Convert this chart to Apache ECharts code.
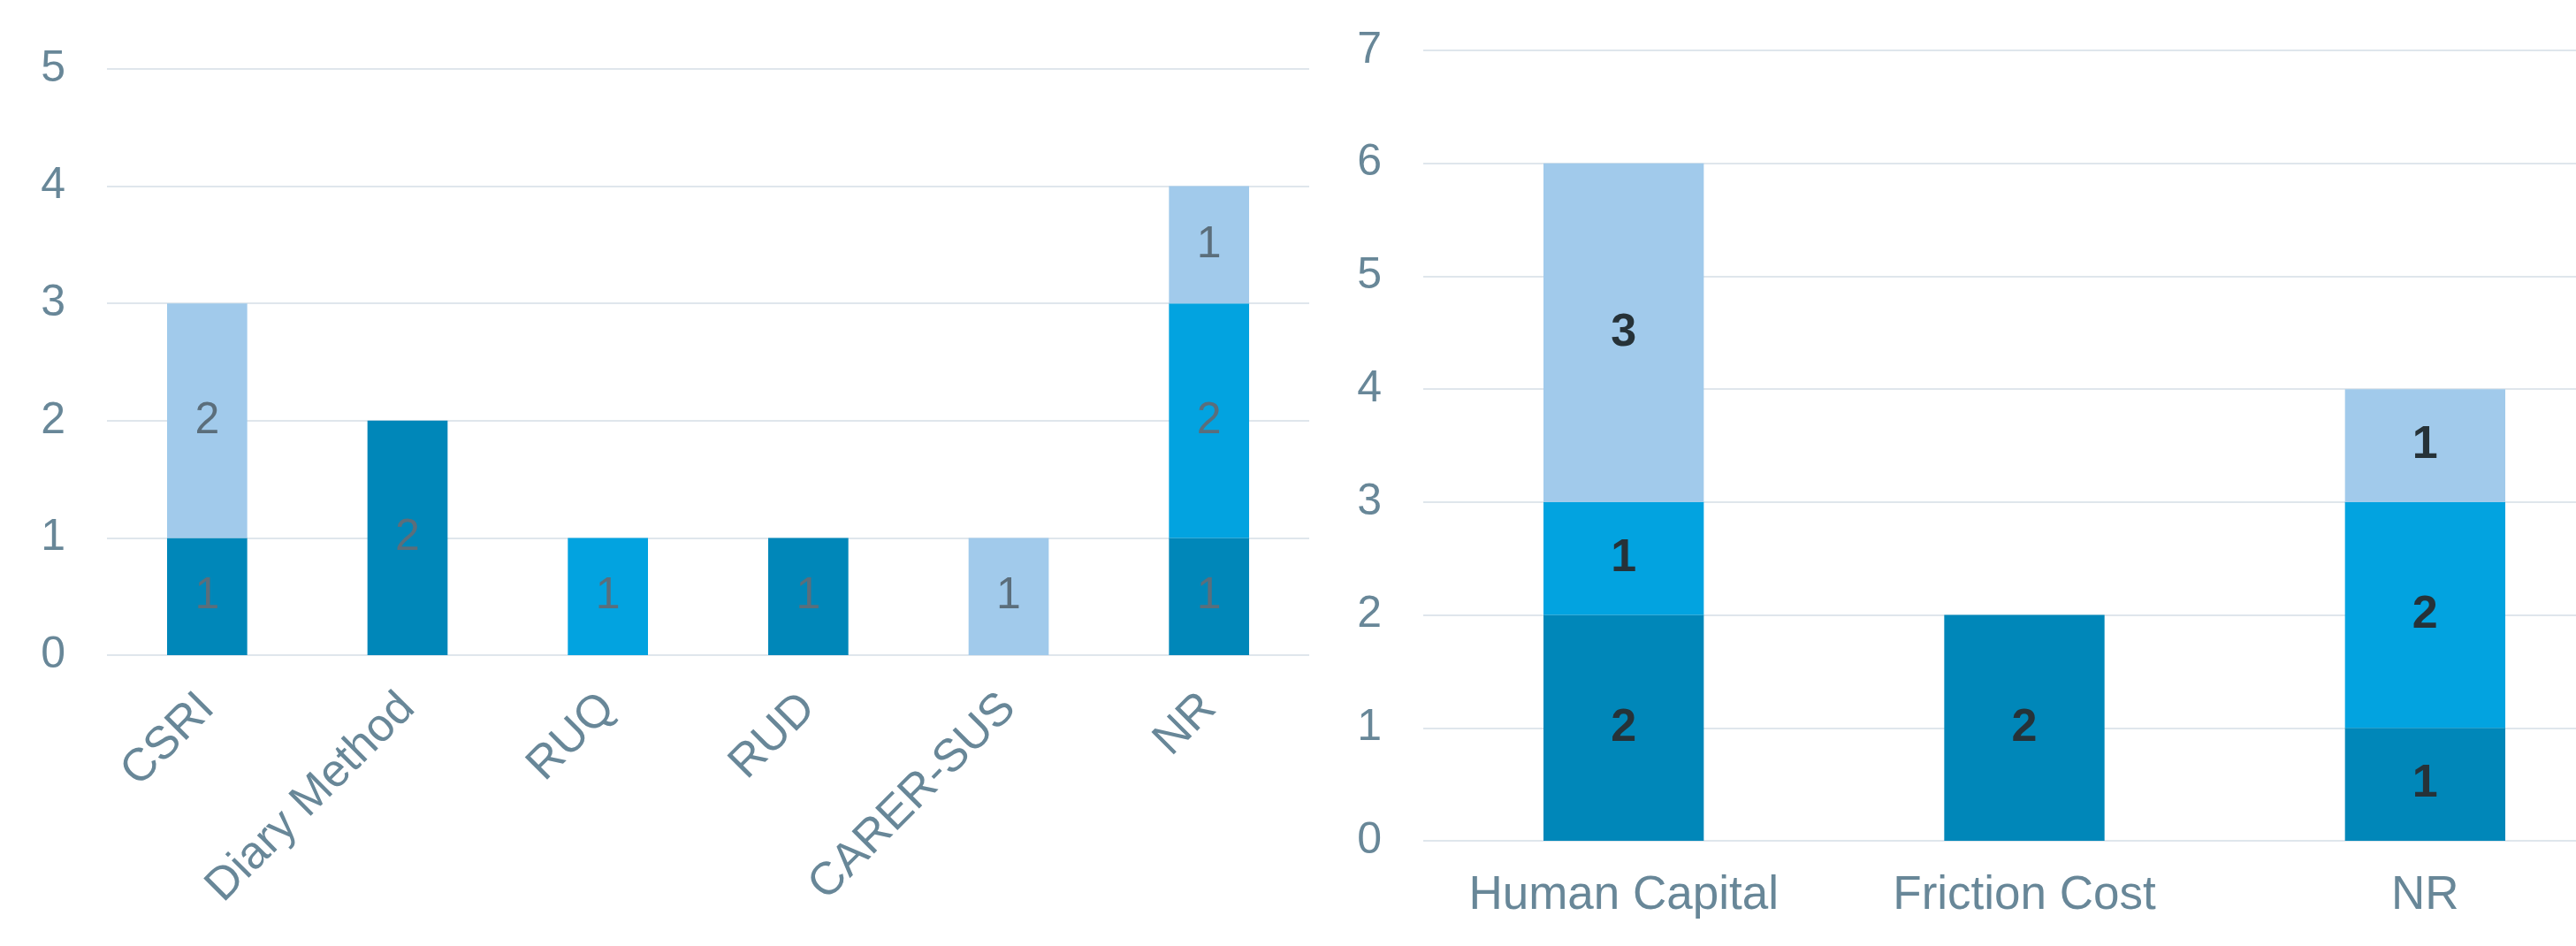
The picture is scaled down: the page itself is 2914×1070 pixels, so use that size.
<!DOCTYPE html>
<html>
<head>
<meta charset="utf-8">
<script src="https://cdn.jsdelivr.net/npm/echarts@6/dist/echarts.min.js"></script>
<style>
    html, body { margin: 0; padding: 0; background: #fff; }
    #chart { width: 2914px; height: 1070px; }
</style>
</head>
<body>
<div id="chart"></div>
<script>
    // left panel: instruments
    const toolCats = ['CSRI', 'Diary Method', 'RUQ', 'RUD', 'CARER-SUS', 'NR'];
    const toolDark = [1, 2, 0, 1, 0, 1];
    const toolMid = [0, 0, 1, 0, 0, 2];
    const toolLight = [2, 0, 0, 0, 1, 1];

    // right panel: methods
    const methodCats = ['Human Capital', 'Friction Cost', 'NR'];
    const methodDark = [2, 2, 1];
    const methodMid = [1, 0, 2];
    const methodLight = [3, 0, 1];

    const colors = ['#0087B9', '#02A3E0', '#A1CAEB'];
    const axisColor = '#688798';
    const gridColor = '#DFE6EC';
    const font = 'Liberation Sans';

    const myChart = echarts.init(document.getElementById('chart'));

    function makeSeries(name, data, color, xi, labelStyle) {
        return {
            name: name,
            type: 'bar',
            stack: 'g' + xi,
            xAxisIndex: xi,
            yAxisIndex: xi,
            barWidth: '40%',
            data: data.map(v => (v === 0 ? null : v)),
            itemStyle: { color: color },
            label: Object.assign({
                show: true,
                position: 'inside',
                fontFamily: font
            }, labelStyle)
        };
    }

    const leftLabel = { color: '#5B6E7B', fontSize: 50, fontWeight: 'normal' };
    const rightLabel = { color: '#263238', fontSize: 52, fontWeight: 'bold' };

    const yAxisBase = {
        type: 'value',
        min: 0,
        interval: 1,
        axisLine: { show: false },
        axisTick: { show: false },
        splitLine: { lineStyle: { color: gridColor, width: 2 } },
        axisLabel: { color: axisColor, fontSize: 50, fontFamily: font, margin: 47 }
    };

    const option = {
        animation: false,
        grid: [
            { left: 121, top: 78, width: 1360, bottom: 329, outerBoundsMode: 'none', containLabel: false },
            { left: 1610, top: 57, width: 1360, bottom: 119, outerBoundsMode: 'none', containLabel: false }
        ],
        xAxis: [
            {
                type: 'category',
                gridIndex: 0,
                data: toolCats,
                axisLine: { show: false },
                axisTick: { show: false },
                axisLabel: { color: axisColor, fontSize: 52, fontFamily: font, rotate: 45, margin: 52, interval: 0 }
            },
            {
                type: 'category',
                gridIndex: 1,
                data: methodCats,
                axisLine: { show: false },
                axisTick: { show: false },
                axisLabel: { color: axisColor, fontSize: 53, fontFamily: font, margin: 36, interval: 0 }
            }
        ],
        yAxis: [
            Object.assign({}, yAxisBase, { gridIndex: 0, max: 5 }),
            Object.assign({}, yAxisBase, { gridIndex: 1, max: 7 })
        ],
        series: [
            makeSeries('dark', toolDark, colors[0], 0, leftLabel),
            makeSeries('mid', toolMid, colors[1], 0, leftLabel),
            makeSeries('light', toolLight, colors[2], 0, leftLabel),
            makeSeries('dark', methodDark, colors[0], 1, rightLabel),
            makeSeries('mid', methodMid, colors[1], 1, rightLabel),
            makeSeries('light', methodLight, colors[2], 1, rightLabel)
        ]
    };
    myChart.setOption(option);
</script>
</body>
</html>
